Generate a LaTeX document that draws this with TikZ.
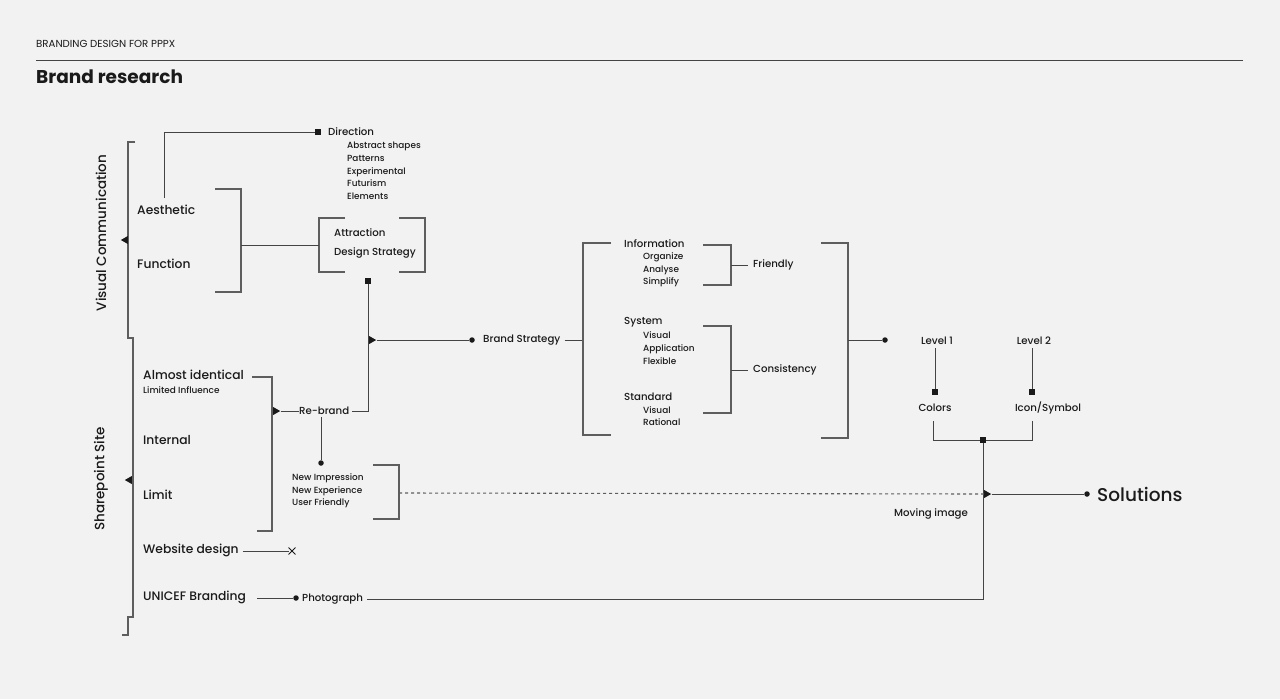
\documentclass[tikz,border=0pt]{standalone}
\usepackage{fontspec}
\setmainfont{Poppins}[UprightFont=* Medium, BoldFont=* Bold]
\newfontfamily\plainfont{Poppins}
\usepackage{tikz}
\usetikzlibrary{arrows.meta,positioning,shapes.geometric,shapes.misc,calc}
\definecolor{paper}{HTML}{F2F2F2}
\definecolor{ink}{HTML}{1A1A1A}
\definecolor{wiregray}{HTML}{444444}
\definecolor{brkgray}{HTML}{5E5E5E}

\begin{document}
\begin{tikzpicture}[
        x=1pt, y=-1pt,
        big/.style={anchor=west, inner sep=0pt, text=ink, font=\fontsize{12.3}{14}\selectfont},
        mid/.style={anchor=west, inner sep=0pt, text=ink, font=\fontsize{10.2}{12}\selectfont},
        small/.style={anchor=west, inner sep=0pt, text=ink, align=left, font=\fontsize{8.9}{12.7}\selectfont},
        side/.style={inner sep=0pt, text=ink, rotate=90, font=\fontsize{13.5}{16}\selectfont},
        wire/.style={draw=wiregray, line width=1pt},
        brk/.style={draw=brkgray, line width=1.3pt},
        sqmark/.style={rectangle, fill=ink, inner sep=0pt, minimum size=5.5pt},
        dotmark/.style={circle, fill=ink, inner sep=0pt, minimum size=5.5pt},
        tri/.style={isosceles triangle, isosceles triangle stretches, fill=ink, inner sep=0pt, minimum height=7pt, minimum width=8pt},
        xmark/.style={cross out, draw=ink, line width=0.9pt, inner sep=0pt, minimum size=6pt}
    ]
        \fill[paper] (0,0) rectangle (1280,699);
        \useasboundingbox (0,0) rectangle (1280,699);

        \node[anchor=west, inner sep=0pt, text=ink, font=\plainfont\fontsize{10.2}{12}\selectfont] (hdr) at (36,44) {BRANDING DESIGN FOR PPPX};
        \coordinate (ruleL) at (36,60);
        \coordinate (ruleR) at (1243,60);
        \draw[wire] (ruleL) -- (ruleR);
        \node[anchor=west, inner sep=0pt, text=ink, font=\fontsize{18.5}{22}\bfseries] (ttl) at (36,77) {Brand research};

        % left side
        \node[side] (vc) at (101,233) {Visual Communication};
        \node[side] (sp) at (101,479) {Sharepoint Site};
        \draw[brk] (135,142) -- (128,142) -- (128,338) -- (133,338) -- (133,617) -- (128,617) -- (128,635) -- (122,635);
        \node[tri, shape border rotate=180] (vctri) at (125.5,240) {};
        \node[tri, shape border rotate=180] (sptri) at (129.5,480) {};

        \node[big] (aes) at (137,210) {Aesthetic};
        \node[big] (fun) at (137,264) {Function};

        \node[sqmark] (dirsq) at (318,132) {};
        \node[mid] (dir) at (328,132) {Direction};
        \node[small] (dirlist) at (347,171) {Abstract shapes\\Patterns\\Experimental\\Futurism\\Elements};
        \coordinate (aestop) at (164,198);
        \draw[wire] (aestop) |- (dirsq);

        \coordinate (afC) at (241,245);
        \draw[brk] (215,189) -| (afC) |- (215,292);
        \node[mid] (attr) at (334,233) {Attraction};
        \node[mid] (dstrat) at (334,253) {Design Strategy};
        \coordinate (adL) at (319,245);
        \draw[brk] (345,218) -| (adL) |- (345,272);
        \draw[brk] (399,218) -| (425,272) -- (399,272);
        \draw[wire] (afC) -- (adL);

        \node[sqmark] (adsq) at (368,281) {};
        \node[big] (almost) at (143,375) {Almost identical};
        \node[small] (limited) at (143,390) {Limited Influence};
        \node[big] (internal) at (143,440) {Internal};
        \node[big] (limit) at (143,495) {Limit};
        \node[big] (web) at (143,550) {Website design};
        \node[big] (unicef) at (143,597) {UNICEF Branding};

        \coordinate (alC) at (272,411);
        \draw[brk] (252,377) -| (alC) |- (257,531);
        \node[tri] (altri) at (275.5,411) {};
        \node[mid] (rebr) at (299,411) {Re-brand};
        \draw[wire] (altri) -- (rebr);
        \coordinate (rbJ) at (368,411);
        \draw[wire] (rebr.east) ++(3,0) -- (rbJ) -- (adsq);

        \node[tri] (bstri) at (371.5,340) {};
        \node[dotmark] (bsdot) at (472,340) {};
        \node[mid] (bstrat) at (483,340) {Brand Strategy};
        \draw[wire] (bstri) -- (bsdot);

        \node[dotmark] (nidot) at (321,463) {};
        \draw[wire] (rebr.south -| nidot) ++(0,2) -- (nidot);
        \node[small] (nilist) at (292,491) {New Impression\\New Experience\\User Friendly};
        \coordinate (niR) at (399,493);
        \draw[brk] (373,465) -| (niR) |- (373,519);

        \node[xmark] (webx) at (292,551) {};
        \draw[wire] (web.east) ++(4,1) -- (webx);
        \node[dotmark] (phdot) at (296,598) {};
        \node[mid] (photo) at (302,599) {Photograph};
        \draw[wire] (unicef.east) ++(11,1) -- (phdot);

        % strategy block
        \coordinate (bigL) at (583,340);
        \draw[wire] (bstrat.east) ++(4,0) -- (bigL);
        \draw[brk] (611,243) -| (bigL) |- (611,435);

        \node[mid] (info) at (624,244) {Information};
        \node[small] (infolist) at (643,270) {Organize\\Analyse\\Simplify};
        \node[mid] (sys) at (624,322) {System};
        \node[small] (syslist) at (643,348) {Visual\\Application\\Flexible};
        \node[mid] (std) at (624,397) {Standard};
        \node[small] (stdlist) at (643,416) {Visual\\Rational};

        \coordinate (frC) at (731,265);
        \draw[brk] (703,245) -| (frC) |- (703,285);
        \node[mid] (friendly) at (753,265) {Friendly};
        \draw[wire] (frC) -- ++(17,0);
        \coordinate (coC) at (731,370);
        \draw[brk] (703,326) -| (coC) |- (703,413);
        \node[mid] (consist) at (753,370) {Consistency};
        \draw[wire] (coC) -- ++(17,0);

        \coordinate (bigR) at (848,340);
        \draw[brk] (821,243) -| (bigR) |- (821,438);
        \node[dotmark] (stdot) at (885,340) {};
        \draw[wire] (bigR) -- (stdot);

        % levels
        \node[mid, anchor=center] (lv1) at (937,341) {Level 1};
        \node[mid, anchor=center] (lv2) at (1034,341) {Level 2};
        \node[sqmark] (lv1sq) at (935,392) {};
        \node[sqmark] (lv2sq) at (1032,392) {};
        \node[mid, anchor=center] (col) at (935,408) {Colors};
        \node[mid, anchor=center] (icon) at (1048,408) {Icon/Symbol};
        \draw[wire] (lv1.south -| lv1sq) ++(0,3) -- (lv1sq);
        \draw[wire] (lv2.south -| lv2sq) ++(0,3) -- (lv2sq);
        \node[sqmark] (solsq) at (983,440) {};
        \draw[wire] (933,421) |- (solsq) -| (1032,421);

        \coordinate (phJ) at (983,599);
        \draw[wire] (photo.east) ++(4,0) -- (phJ) -- (solsq);
        \node[tri] (soltri) at (986.5,494) {};
        \draw[brk, line width=1.1pt, dash pattern=on 3pt off 3pt] (niR) -- (soltri.west);
        \node[dotmark] (soldot) at (1087,494) {};
        \draw[wire] (soltri) -- (soldot);
        \node[anchor=west, inner sep=0pt, text=ink, font=\fontsize{18.5}{22}\selectfont] (sol) at (1097,494) {Solutions};
        \node[mid] (moving) at (894,514) {Moving image};
    \end{tikzpicture}
\end{document}
